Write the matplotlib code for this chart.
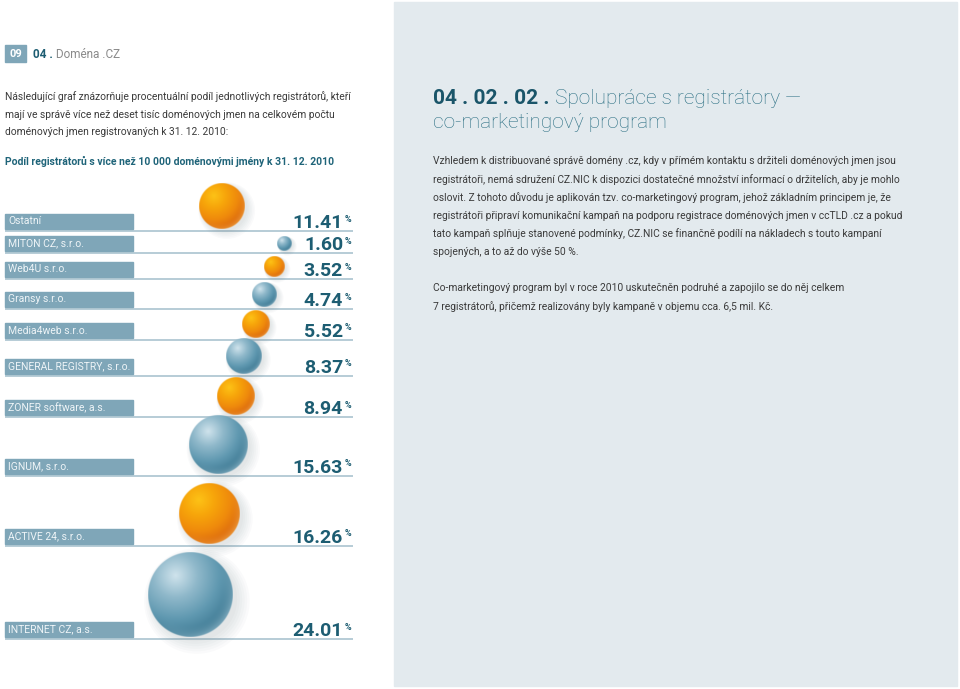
import numpy as np
import matplotlib
matplotlib.use('Agg')
import matplotlib.pyplot as plt
from matplotlib.patches import Rectangle, Circle
from matplotlib.colors import LinearSegmentedColormap, to_rgb

plt.rcParams['font.family'] = ['Roboto', 'DejaVu Sans']

# data
registrars = ['Ostatní', 'MITON CZ, s.r.o.', 'Web4U s.r.o.', 'Gransy s.r.o.',
              'Media4web s.r.o.', 'GENERAL REGISTRY, s.r.o.', 'ZONER software, a.s.',
              'IGNUM, s.r.o.', 'ACTIVE 24, s.r.o.', 'INTERNET CZ, a.s.']
shares = [11.41, 1.60, 3.52, 4.74, 5.52, 8.37, 8.94, 15.63, 16.26, 24.01]
ball_kind = ['orange', 'blue', 'orange', 'blue', 'orange', 'blue', 'orange', 'blue', 'orange', 'blue']

intro = ['Následující graf znázorňuje procentuální podíl jednotlivých registrátorů, kteří',
         'mají ve správě více než deset tisíc doménových jmen na celkovém počtu',
         'doménových jmen registrovaných k 31. 12. 2010:']
subtitle = 'Podíl registrátorů s více než 10 000 doménovými jmény k 31. 12. 2010'
body = ['Vzhledem k distribuované správě domény .cz, kdy v přímém kontaktu s držiteli doménových jmen jsou',
        'registrátoři, nemá sdružení CZ.NIC k dispozici dostatečné množství informací o držitelích, aby je mohlo',
        'oslovit. Z tohoto důvodu je aplikován tzv. co-marketingový program, jehož základním principem je, že',
        'registrátoři připraví komunikační kampaň na podporu registrace doménových jmen v ccTLD .cz a pokud',
        'tato kampaň splňuje stanovené podmínky, CZ.NIC se finančně podílí na nákladech s touto kampaní',
        'spojených, a to až do výše 50 %.',
        '',
        'Co-marketingový program byl v roce 2010 uskutečněn podruhé a zapojilo se do něj celkem',
        '7 registrátorů, přičemž realizovány byly kampaně v objemu cca. 6,5 mil. Kč.']

# layout (page pixels)
row_line = [231, 253, 279, 309, 340, 376, 417, 476, 546, 639]

teal = '#1d5d72'
teal_light = '#2b6f83'
box_col = '#7fa6b8'
line_col = '#a3bfcc'
text_col = '#3a3a3a'

ball_maps = {
    'orange': LinearSegmentedColormap.from_list('o', ['#fdc216', '#f7a50a', '#ef8a0c', '#d9650f']),
    'blue': LinearSegmentedColormap.from_list('b', ['#cfe3ec', '#8fb8ca', '#5f98b0', '#3b7690']),
}
rim_col = {'orange': '#f6b04a', 'blue': '#9fc4d4'}

fig = plt.figure(figsize=(9.6, 6.89), dpi=100)
ax = fig.add_axes([0, 0, 1, 1])
ax.set_xlim(0, 960)
ax.set_ylim(689, 0)
ax.axis('off')

# right panel
ax.add_patch(Rectangle((394, 2), 563, 684, color='#e3eaee', zorder=0))

# header left
ax.add_patch(Rectangle((5, 45), 21, 17, color=box_col, zorder=1))
ax.text(15.5, 54, '09', color='white', fontsize=8, fontweight='bold', ha='center', va='center')
t = ax.text(33, 54, '04 .', color=teal, fontsize=8.5, fontweight='bold', va='center')
ax.annotate(' Doména .CZ', xy=(1, 0), xycoords=t, va='bottom', ha='left',
            color='#8a8a8a', fontsize=8.5)

for i, s in enumerate(intro):
    ax.text(5, 97 + i * 17.5, s, color=text_col, fontsize=7.4, va='center')
ax.text(5, 161, subtitle, color='#1f6479', fontsize=7.5, fontweight='bold', va='center')


def ball(cx, cy, d, kind):
    n = int(d * 3) + 4
    g = np.linspace(-1, 1, n)
    u, v = np.meshgrid(g, g)
    rr = np.sqrt(u ** 2 + v ** 2)
    dh = np.sqrt((u + 0.35) ** 2 + (v + 0.45) ** 2)
    tt = np.clip(dh / 1.55, 0, 1)
    rgba = ball_maps[kind](tt)
    rim = np.clip((rr - 0.72) / 0.28, 0, 1) ** 1.5 * np.clip((u + v) / 1.3, 0, 1)
    rc = np.array(to_rgb(rim_col[kind]))
    rgba[..., :3] = rgba[..., :3] * (1 - 0.6 * rim[..., None]) + rc * 0.6 * rim[..., None]
    rgba[..., 3] = np.clip((1 - rr) * d / 2 + 0.5, 0, 1)
    r = d / 2
    # soft shadow
    for k in range(6):
        ax.add_patch(Circle((cx + r * 0.12 + k * 0.4, cy + r * 0.1 + k * 0.4), r * (1.0 + k * 0.05),
                            color='#7a8a90', alpha=0.035, lw=0, zorder=3))
    ax.imshow(rgba, extent=(cx - r, cx + r, cy + r, cy - r), origin='upper',
              interpolation='bilinear', zorder=4)


for i, (name, val) in enumerate(zip(registrars, shares)):
    y = row_line[i]
    ax.plot([5, 353], [y, y], color=line_col, lw=1.1, zorder=2, solid_capstyle='butt')
    ax.add_patch(Rectangle((5, y - 17.5), 128, 15.5, color=box_col, zorder=2))
    ax.text(8.5, y - 9.5, name, color='#eef4f7', fontsize=7.5, va='center', zorder=3)
    ax.text(343, y - 3, f'{val:.2f}', color=teal, fontsize=14, fontweight='bold',
            ha='right', va='baseline', zorder=5)
    ax.text(344.5, y - 16.5, '%', color=teal, fontsize=6.5, fontweight='bold',
            ha='left', va='top', zorder=5)
    d = 10 + 3.1 * val
    if i == 0:
        cx = 222
    else:
        cx = 292 - 0.5 * d - 7.5 * (i - 1)
    ball(cx, y - 2 - d / 2, d, ball_kind[i])

# right column
h = ax.text(433, 99, '04 . 02 . 02 .', color='#1a5569', fontsize=15, fontweight='bold', va='center')
ax.annotate(' Spolupráce s registrátory —', xy=(1, 0), xycoords=h, va='bottom', ha='left',
            color=teal_light, fontsize=15, fontweight='light')
ax.text(433, 123, 'co-marketingový program', color=teal_light, fontsize=15,
        fontweight='light', va='center')

for i, s in enumerate(body):
    ax.text(433, 161.5 + i * 18.1, s, color=text_col, fontsize=7.4, va='center')

ax.set_xlim(0, 960)
ax.set_ylim(689, 0)
fig.savefig('out.png', dpi=100, facecolor='white')
